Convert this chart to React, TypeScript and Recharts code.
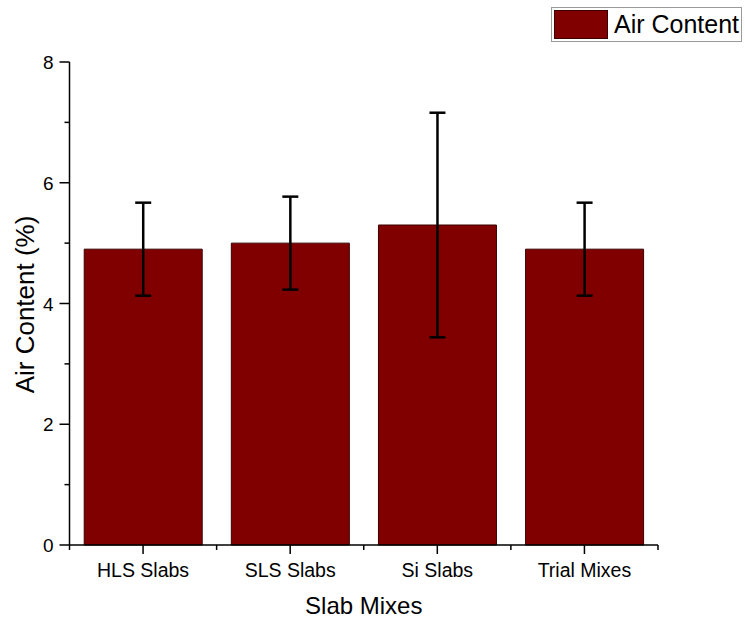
import React from 'react';
import { BarChart, Bar, XAxis, YAxis, ErrorBar } from 'recharts';

const mixes = ['HLS Slabs', 'SLS Slabs', 'Si Slabs', 'Trial Mixes'];
const airContent = [4.9, 5.0, 5.3, 4.9];
const airContentSd = [0.77, 0.77, 1.86, 0.77];
const yTicks = [0, 1, 2, 3, 4, 5, 6, 7, 8];

const data = mixes.map((mix, i) => ({ mix, air: airContent[i], sd: airContentSd[i] }));

const FONT = 'Arial, "Liberation Sans", sans-serif';
const BAR_COLOR = '#800000';

// left axis: long ticks + labels on even values, short minor ticks on odd ones
const YTick = (props: any) => {
  const { x, y, payload } = props;
  const major = payload.value % 2 === 0;
  return (
    <g>
      <line x1={x} x2={x - (major ? 10 : 5)} y1={y} y2={y} stroke="#000" strokeWidth={1.5} />
      {major && (
        <text x={x - 16} y={y} dy={7} textAnchor="end" fontSize={19} fontFamily={FONT} fill="#000">
          {payload.value}
        </text>
      )}
    </g>
  );
};

// bottom axis: major tick at each category, minor ticks at the band edges
const XTick = (props: any) => {
  const { x, y, payload, index, visibleTicksCount, width } = props;
  const band = width && visibleTicksCount ? width / visibleTicksCount : 147;
  return (
    <g>
      <line x1={x} x2={x} y1={y} y2={y + 9} stroke="#000" strokeWidth={1.5} />
      <line x1={x - band / 2} x2={x - band / 2} y1={y} y2={y + 5} stroke="#000" strokeWidth={1.5} />
      {index === visibleTicksCount - 1 && (
        <line x1={x + band / 2} x2={x + band / 2} y1={y} y2={y + 5} stroke="#000" strokeWidth={1.5} />
      )}
      <text x={x} y={y} dy={32} textAnchor="middle" fontSize={19.5} fontFamily={FONT} fill="#000">
        {payload.value}
      </text>
    </g>
  );
};

export default function App() {
  return (
    <div style={{ position: 'relative', width: 745, height: 622, background: '#fff' }}>
      <style>{`body { margin: 0; }`}</style>
      <BarChart
        width={745}
        height={622}
        data={data}
        margin={{ top: 62, right: 87, bottom: 0, left: 0 }}
        barCategoryGap="10%"
      >
        <XAxis
          dataKey="mix"
          height={77}
          tick={<XTick />}
          tickLine={false}
          tickSize={0}
          tickMargin={0}
          axisLine={{ stroke: '#000', strokeWidth: 1.5 }}
          label={{
            content: (p: any) => (
              <text
                x={p.viewBox.x + p.viewBox.width / 2}
                y={p.viewBox.y + 69}
                textAnchor="middle"
                fontSize={24}
                fontFamily={FONT}
                fill="#000"
              >
                Slab Mixes
              </text>
            ),
          }}
        />
        <YAxis
          width={69.5}
          domain={[0, 8]}
          ticks={yTicks}
          interval={0}
          tick={<YTick />}
          tickLine={false}
          tickSize={0}
          tickMargin={0}
          axisLine={{ stroke: '#000', strokeWidth: 1.5 }}
          label={{
            content: (p: any) => {
              const cx = 34;
              const cy = p.viewBox.y + p.viewBox.height / 2 + 1;
              return (
                <text
                  x={cx}
                  y={cy}
                  transform={`rotate(-90 ${cx} ${cy})`}
                  textAnchor="middle"
                  fontSize={26}
                  fontFamily={FONT}
                  fill="#000"
                >
                  Air Content (%)
                </text>
              );
            },
          }}
        />
        <Bar dataKey="air" fill={BAR_COLOR} stroke="#3a0000" strokeWidth={1} isAnimationActive={false}>
          <ErrorBar dataKey="sd" width={8} strokeWidth={2.5} stroke="#000" direction="y" />
        </Bar>
      </BarChart>
      <div
        style={{
          position: 'absolute',
          left: 551,
          top: 7,
          width: 191,
          height: 35,
          border: '1.5px solid #9a9a9a',
          background: '#fff',
          display: 'flex',
          alignItems: 'center',
          boxSizing: 'border-box',
          padding: '0 0 0 2px',
        }}
      >
        <div style={{ width: 54, height: 29, background: BAR_COLOR, border: '1px solid #3a0000', boxSizing: 'border-box' }} />
        <span style={{ marginLeft: 6, fontSize: 25, fontFamily: FONT, color: '#000', lineHeight: 1 }}>Air Content</span>
      </div>
    </div>
  );
}
